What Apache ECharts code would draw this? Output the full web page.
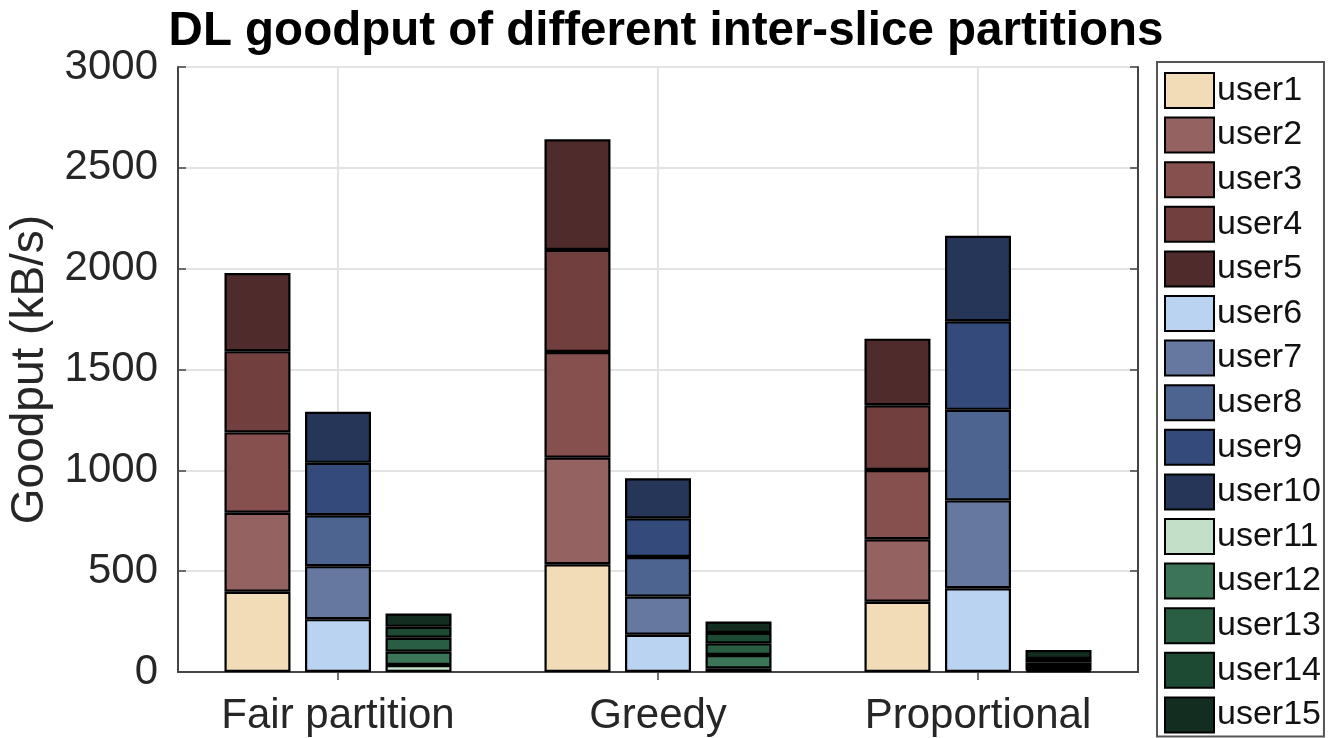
<!DOCTYPE html>
<html>
<head>
<meta charset="utf-8">
<script src="https://cdn.jsdelivr.net/npm/echarts@6/dist/echarts.min.js"></script>
<style>
html,body{margin:0;padding:0;background:#fff;}
#chart{width:1328px;height:738px;}
</style>
</head>
<body>
<div id="chart"></div>
<script>
const categories = ['Fair partition', 'Greedy', 'Proportional'];
const userNames = ['user1','user2','user3','user4','user5','user6','user7','user8','user9','user10','user11','user12','user13','user14','user15'];
const yTicks = [0, 500, 1000, 1500, 2000, 2500, 3000];

// slice 1 (users 1-5), values per category: Fair, Greedy, Proportional
const slice1Values = [
  [398, 534, 348],
  [392, 529, 310],
  [398, 524, 344],
  [403, 506, 321],
  [387, 549, 330]
];
// slice 2 (users 6-10)
const slice2Values = [
  [262, 185, 415],
  [263, 189, 436],
  [252, 196, 449],
  [260, 192, 439],
  [253, 199, 424]
];
// slice 3 (users 11-15)
const slice3Values = [
  [35, 18, 8],
  [66, 66, 22],
  [69, 58, 18],
  [54, 52, 17],
  [66, 56, 44]
];

const colors = [
  '#F2DCB7', '#956262', '#86504F', '#703F3E', '#4F2C2B',
  '#B9D3F0', '#6678A0', '#4D6390', '#334A7A', '#253658',
  '#C3DFC8', '#3B7457', '#2A5E43', '#1D4A33', '#132E20'
];

const FONT = 'Liberation Sans, Arial, Helvetica, sans-serif';
const TXT = '#262626';

const allValues = slice1Values.concat(slice2Values, slice3Values);
const series = allValues.map((vals, i) => ({
  name: userNames[i],
  type: 'bar',
  stack: i < 5 ? 's1' : (i < 10 ? 's2' : 's3'),
  data: vals,
  barWidth: 66,
  barGap: '22%',
  itemStyle: { color: colors[i], borderColor: '#000', borderWidth: 2.2 },
  emphasis: { disabled: true }
}));

const chart = echarts.init(document.getElementById('chart'), null, { renderer: 'canvas' });
chart.setOption({
  animation: false,
  backgroundColor: '#fff',
  color: colors,
  title: {
    text: 'DL goodput of different inter-slice partitions',
    left: 661, textAlign: 'center', top: 3,
    textStyle: { fontFamily: FONT, fontSize: 47.5, fontWeight: 'bold', color: '#000' }
  },
  grid: { left: 178, right: 190, top: 67, bottom: 66, containLabel: false, outerBoundsMode: 'none' },
  legend: {
    type: 'plain',
    orient: 'vertical',
    left: 1157, top: 62,
    height: 720,
    padding: [10, 3, 3, 7],
    itemWidth: 49, itemHeight: 35, itemGap: 7.6,
    icon: 'rect',
    borderColor: '#555', borderWidth: 2,
    data: userNames,
    itemStyle: { borderColor: '#000', borderWidth: 2 },
    textStyle: { fontFamily: FONT, fontSize: 34, lineHeight: 35, color: '#111', padding: [0, 0, 0, -2] },
    selectedMode: false
  },
  xAxis: [{
    type: 'category',
    data: categories,
    position: 'bottom',
    axisLine: { show: true, lineStyle: { color: '#444', width: 2 } },
    axisTick: { show: true, inside: true, alignWithLabel: true, length: 8, lineStyle: { color: '#444', width: 1.5 } },
    axisLabel: { fontFamily: FONT, fontSize: 42, color: TXT, margin: 23 },
    splitLine: { show: true, alignWithLabel: true, lineStyle: { color: '#E3E3E3', width: 2 } }
  }, {
    type: 'category',
    data: categories,
    position: 'top',
    axisLine: { show: true, lineStyle: { color: '#444', width: 2 } },
    axisTick: { show: true, inside: true, alignWithLabel: true, length: 8, lineStyle: { color: '#444', width: 1.5 } },
    axisLabel: { show: false },
    splitLine: { show: false }
  }],
  yAxis: [{
    type: 'value',
    min: yTicks[0], max: yTicks[yTicks.length - 1], interval: 500,
    name: 'Goodput (kB/s)',
    nameLocation: 'middle',
    nameGap: 96,
    nameTextStyle: { fontFamily: FONT, fontSize: 46, color: TXT },
    axisLine: { show: true, lineStyle: { color: '#444', width: 2 } },
    axisTick: { show: true, inside: true, length: 8, lineStyle: { color: '#444', width: 1.5 } },
    axisLabel: { fontFamily: FONT, fontSize: 42, color: TXT, margin: 20, formatter: v => String(v) },
    splitLine: { show: true, lineStyle: { color: '#E3E3E3', width: 2 } }
  }, {
    type: 'value',
    position: 'right',
    min: yTicks[0], max: yTicks[yTicks.length - 1], interval: 500,
    axisLine: { show: true, lineStyle: { color: '#444', width: 2 } },
    axisTick: { show: true, inside: true, length: 8, lineStyle: { color: '#444', width: 1.5 } },
    axisLabel: { show: false },
    splitLine: { show: false }
  }],
  series: series
});
</script>
</body>
</html>
